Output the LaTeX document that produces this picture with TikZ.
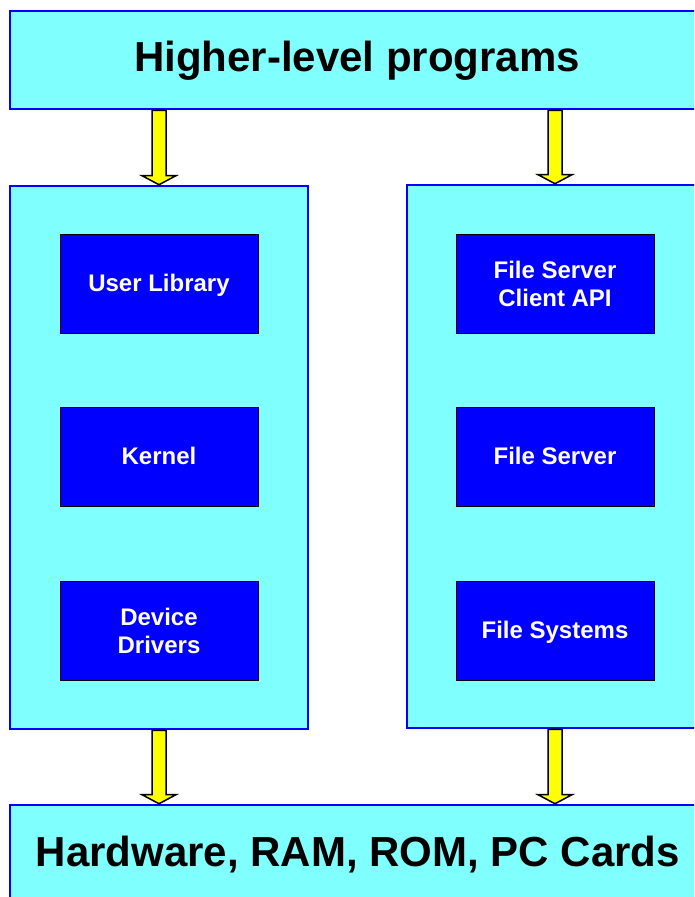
\documentclass[tikz,border=0pt]{standalone}
\usepackage{fontspec}
\setmainfont{Liberation Sans}
\usetikzlibrary{calc}

\definecolor{paleCyan}{HTML}{80FFFF}
\definecolor{deepBlue}{HTML}{0000FF}
\definecolor{arrowYellow}{HTML}{FFFF00}

\tikzset{
  layerbox/.style={draw=deepBlue, line width=2.6pt, fill=paleCyan, inner sep=0pt,
    font=\bfseries\fontsize{42}{48}\selectfont, text=black, text height=30pt},
  columnbox/.style={draw=deepBlue, line width=2.6pt, fill=paleCyan, inner sep=0pt},
  modulebox/.style={draw=black, line width=1pt, fill=deepBlue, inner sep=0pt,
    minimum width=198pt, minimum height=99pt, text=white, align=center,
    font=\bfseries\fontsize{24}{28}\selectfont},
  oneline/.style={text height=17.2pt, text depth=2.2pt},
  arrowbody/.style={draw=black, line width=1.5pt, fill=arrowYellow, line join=miter}
}

% hollow block arrow from #1 (tail) down to #2 (tip)
\newcommand\blockarrow[2]{%
  \draw[arrowbody] ($(#1)+(-7,0)$) -- ($(#2)+(-7,-9)$) -- ($(#2)+(-17,-9)$)
    -- (#2) -- ($(#2)+(17,-9)$) -- ($(#2)+(7,-9)$) -- ($(#1)+(7,0)$) -- cycle;}

\begin{document}
\begin{tikzpicture}[x=1pt, y=-1pt]
  \useasboundingbox (0,0) rectangle (694,897);
  \clip (0,0) rectangle (694,897);

  % outer layers
  \node[layerbox, text depth=6.7pt, minimum width=694pt, minimum height=98pt] (top) at (357,60) {Higher-level programs};
  \node[layerbox, text depth=2.7pt, minimum width=696pt, minimum height=96pt] (bottom) at (358,853) {Hardware, RAM, ROM, PC Cards};

  % the two columns
  \node[columnbox, minimum width=298pt, minimum height=543pt] (lcol) at (159,457.5) {};
  \node[columnbox, minimum width=296pt, minimum height=543pt] (rcol) at (555,456.5) {};

  % modules of the left column
  \node[modulebox, oneline] (ulib) at (159,283.5) {User Library};
  \node[modulebox, oneline] (kern) at (159,456.5) {Kernel};
  \node[modulebox] (drv)  at (159,630.5) {Device\\Drivers};

  % modules of the right column
  \node[modulebox] (fsapi) at (555,283.5) {File Server\\Client API};
  \node[modulebox, oneline] (fsrv)  at (555,456.5) {File Server};
  \node[modulebox, oneline] (fsys)  at (555,630.5) {File Systems};

  % arrows between the layers
  \coordinate (a1) at (top.south -| lcol.north);
  \coordinate (a2) at (top.south -| fsapi.north);
  \coordinate (b1) at (bottom.north -| lcol.south);
  \coordinate (b2) at (bottom.north -| fsys.south);
  \coordinate (t1) at (lcol.north);
  \coordinate (t2) at (rcol.north -| fsapi.north);
  \coordinate (s1) at (lcol.south);
  \coordinate (s2) at (rcol.south -| fsys.south);
  \blockarrow{a1}{t1}
  \blockarrow{a2}{t2}
  \blockarrow{s1}{b1}
  \blockarrow{s2}{b2}
\end{tikzpicture}
\end{document}
